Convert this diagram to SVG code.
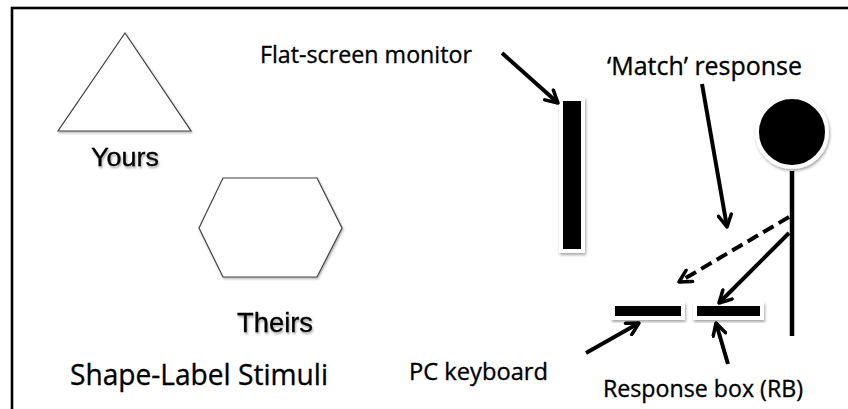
<svg xmlns="http://www.w3.org/2000/svg" width="848" height="409" viewBox="0 0 848 409">
<style>
.lbl{font-family:"Open Sans","Noto Sans","Liberation Sans",sans-serif;fill:#000;stroke:#000;stroke-width:0.35}
.shp{font-family:"Liberation Sans",Arial,sans-serif;fill:#000;stroke:#000;stroke-width:0.3;filter:url(#tsh)}
.outline{fill:#fff;stroke:#404040;stroke-width:1.2;filter:url(#lsh)}
.solid{fill:#000;stroke:#fff;stroke-width:4;filter:url(#sh)}
.arr{fill:none;stroke:#000;stroke-width:4;marker-end:url(#ah)}
</style>
<defs>
<filter id="sh" x="-30%" y="-30%" width="160%" height="160%">
<feDropShadow dx="1" dy="2" stdDeviation="1.5" flood-color="#000" flood-opacity="0.35"/>
</filter>
<filter id="lsh" x="-10%" y="-10%" width="120%" height="120%">
<feDropShadow dx="1" dy="1.5" stdDeviation="1" flood-color="#000" flood-opacity="0.3"/>
</filter>
<filter id="tsh" x="-10%" y="-20%" width="120%" height="140%">
<feDropShadow dx="1" dy="2" stdDeviation="1" flood-color="#000" flood-opacity="0.35"/>
</filter>
<marker id="ah" viewBox="0 0 16 16" refX="14" refY="8" markerWidth="16" markerHeight="16" markerUnits="userSpaceOnUse" orient="auto">
<path d="M2,1.5 L14,8 L2,14.5" fill="none" stroke="#000" stroke-width="3.5" stroke-linecap="round" stroke-linejoin="round"/>
</marker>
</defs>
<rect x="0" y="0" width="848" height="409" fill="#fff"/>
<rect x="12" y="8" width="900" height="500" fill="none" stroke="#000" stroke-width="2.6"/>

<g id="triangle">
<polygon class="outline" points="125,33 191,131 58,131"/>
<text class="shp" x="91" y="166" font-size="26" textLength="68" lengthAdjust="spacingAndGlyphs">Yours</text>
</g>
<g id="hexagon">
<polygon class="outline" points="223,178 317,178 342,228 317,277 223,277 199,228"/>
<text class="shp" x="237" y="332" font-size="27" textLength="76" lengthAdjust="spacingAndGlyphs">Theirs</text>
</g>
<g id="stimuli-label">
<text class="lbl" x="70" y="385" font-size="30" textLength="258" lengthAdjust="spacingAndGlyphs">Shape-Label Stimuli</text>
</g>
<g id="monitor">
<rect class="solid" x="561" y="99" width="22" height="152"/>
<text class="lbl" x="260" y="63" font-size="24" textLength="212" lengthAdjust="spacingAndGlyphs">Flat-screen monitor</text>
</g>
<g id="person">
<circle class="solid" cx="792" cy="132" r="35"/>
<line x1="792" y1="171" x2="792" y2="336" stroke="#000" stroke-width="4.5"/>
</g>
<g id="match-label">
<text class="lbl" x="607" y="75" font-size="25" textLength="195" lengthAdjust="spacingAndGlyphs">‘Match’ response</text>
</g>
<g id="keyboard">
<rect class="solid" x="613" y="304" width="70" height="14"/>
<text class="lbl" x="409" y="380" font-size="24" textLength="139" lengthAdjust="spacingAndGlyphs">PC keyboard</text>
</g>
<g id="response-box">
<rect class="solid" x="695" y="304" width="67" height="14"/>
<text class="lbl" x="603" y="397" font-size="24" textLength="200" lengthAdjust="spacingAndGlyphs">Response box (RB)</text>
</g>
<g id="connectors">
<line class="arr" x1="502" y1="53" x2="558" y2="103"/>
<line class="arr" x1="702" y1="84" x2="727" y2="227"/>
<line class="arr" x1="789" y1="217" x2="679" y2="282" stroke-dasharray="12,6"/>
<line class="arr" x1="789" y1="233" x2="719" y2="303"/>
<line class="arr" x1="586" y1="353" x2="639" y2="323"/>
<line class="arr" x1="728" y1="364" x2="716" y2="323"/>
</g>
</svg>
